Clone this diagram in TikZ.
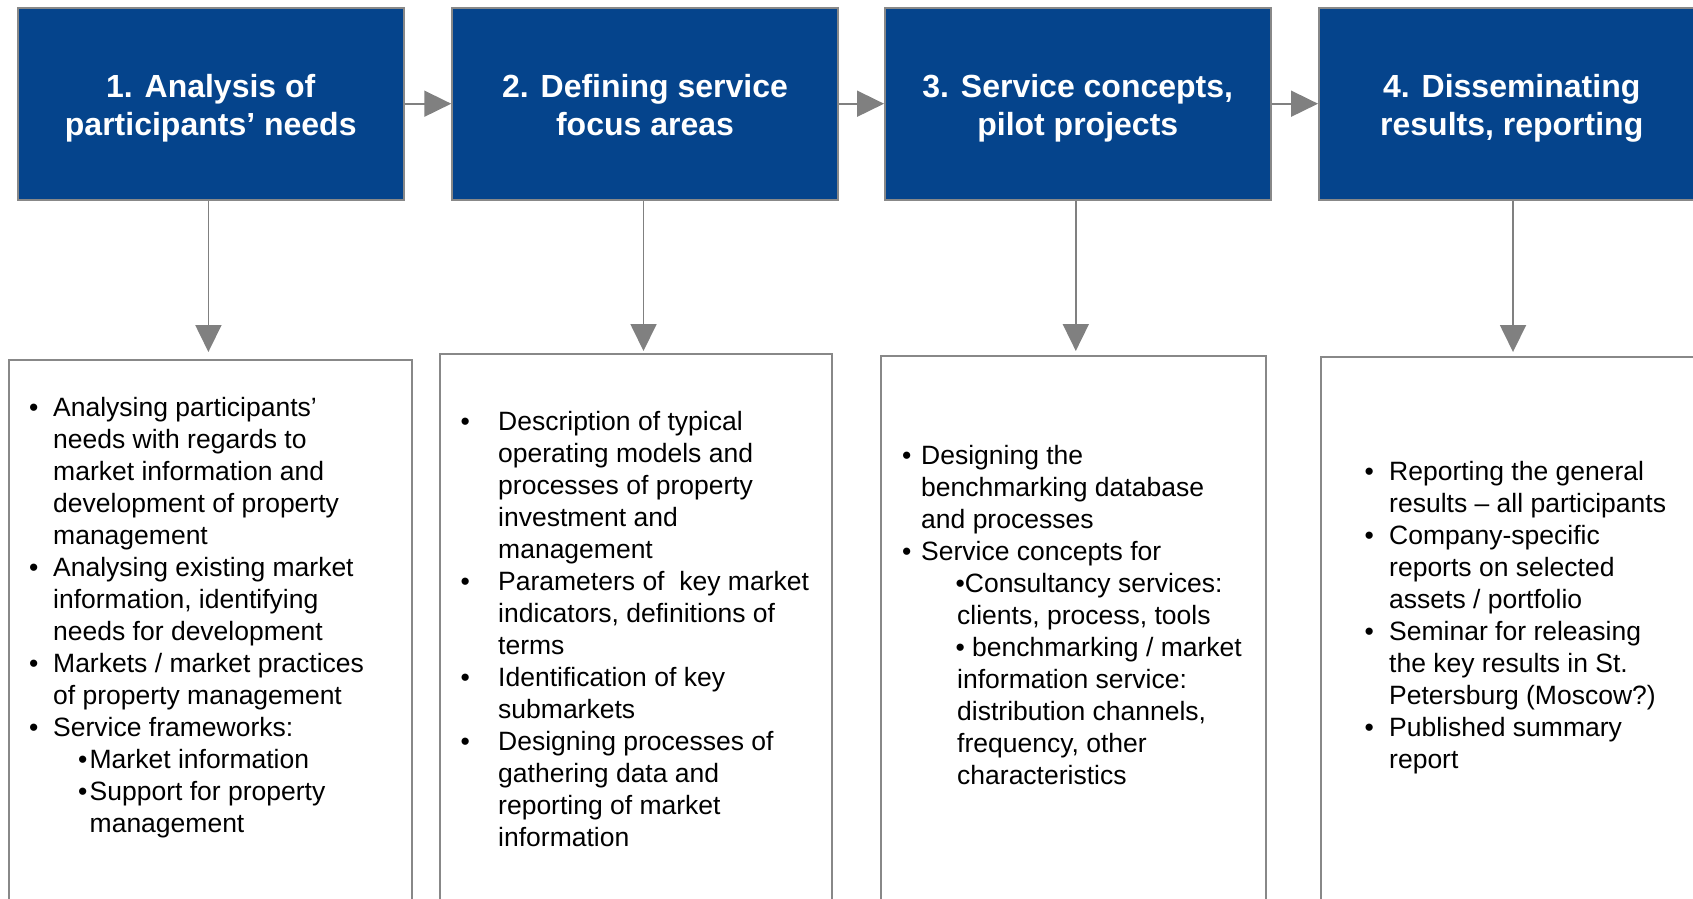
\documentclass[tikz,border=0pt]{standalone}
\usepackage{fontspec}
\setmainfont{Liberation Sans}
\usetikzlibrary{arrows.meta}
\definecolor{boxblue}{RGB}{5,68,140}
\definecolor{edgegray}{RGB}{136,136,136}
\definecolor{arrgray}{RGB}{128,128,128}
\newcommand{\bul}[1]{\makebox[#1][l]{•}}
\newcommand{\ind}[1]{\hspace*{#1}}
\newcommand{\topline}{\rule{0pt}{37pt}}
\begin{document}
\begin{tikzpicture}[x=1pt,y=-1pt,
  stage/.style={draw=edgegray, line width=2pt, fill=boxblue, text=white,
    minimum width=385.5pt, minimum height=192pt, inner sep=0pt, align=center,
    font=\fontsize{32}{38}\selectfont\bfseries},
  panel/.style={draw=edgegray, line width=2pt, fill=white, inner sep=0pt},
  bodytext/.style={anchor=base west, inner sep=0pt, font=\fontsize{26.5}{32}\selectfont},
  arr/.style={draw=arrgray, line width=1.8pt, -{Triangle[length=27pt,width=26pt]}}
]
\useasboundingbox (0,0) rectangle (1693,898);
\clip (0,0) rectangle (1693,898);

% top stage boxes
\node[stage] (s1) at (210.75,103.7) {\topline 1. Analysis of\\participants’ needs\strut};
\node[stage] (s2) at (645,103.7) {\topline 2. Defining service\\focus areas\strut};
\node[stage] (s3) at (1077.75,103.7) {\topline 3. Service concepts,\\pilot projects\strut};
\node[stage] (s4) at (1511.75,103.7) {\topline 4. Disseminating\\results, reporting\strut};

% lower panels
\node[panel, minimum width=403pt, minimum height=560pt] (p1) at (210.1,640) {};
\node[panel, minimum width=392.4pt, minimum height=566pt] (p2) at (636.2,637) {};
\node[panel, minimum width=384.6pt, minimum height=564pt] (p3) at (1073.3,638) {};
\node[panel, minimum width=399pt, minimum height=563pt] (p4) at (1520.5,638.5) {};

% horizontal arrows
\draw[arr] (s1.east) -- (s2.west);
\draw[arr] (s2.east) -- (s3.west);
\draw[arr] (s3.east) -- (s4.west);

% vertical arrows
\coordinate (t1) at (208.4,352);
\coordinate (t2) at (643.5,351);
\coordinate (t3) at (1075.8,351);
\coordinate (t4) at (1513,352);
\draw[arr] (s1.south -| t1) -- (t1);
\draw[arr] (s2.south -| t2) -- (t2);
\draw[arr] (s3.south -| t3) -- (t3);
\draw[arr] (s4.south -| t4) -- (t4);

% texts
\node[bodytext] (x1) at (29,416.6) {\begin{tabular}[t]{@{}l@{}}
\bul{24pt}Analysing participants’\\
\ind{24pt}needs with regards to\\
\ind{24pt}market information and\\
\ind{24pt}development of property\\
\ind{24pt}management\\
\bul{24pt}Analysing existing market\\
\ind{24pt}information, identifying\\
\ind{24pt}needs for development\\
\bul{24pt}Markets / market practices\\
\ind{24pt}of property management\\
\bul{24pt}Service frameworks:\\
\ind{49pt}\bul{11.5pt}Market information\\
\ind{49pt}\bul{11.5pt}Support for property\\
\ind{60.5pt}management
\end{tabular}};

\node[bodytext] (x2) at (460.4,430.8) {\begin{tabular}[t]{@{}l@{}}
\bul{37.6pt}Description of typical\\
\ind{37.6pt}operating models and\\
\ind{37.6pt}processes of property\\
\ind{37.6pt}investment and\\
\ind{37.6pt}management\\
\bul{37.6pt}Parameters of \ key market\\
\ind{37.6pt}indicators, definitions of\\
\ind{37.6pt}terms\\
\bul{37.6pt}Identification of key\\
\ind{37.6pt}submarkets\\
\bul{37.6pt}Designing processes of\\
\ind{37.6pt}gathering data and\\
\ind{37.6pt}reporting of market\\
\ind{37.6pt}information
\end{tabular}};

\node[bodytext] (x3) at (902,464.7) {\begin{tabular}[t]{@{}l@{}}
\bul{19pt}Designing the\\
\ind{19pt}benchmarking database\\
\ind{19pt}and processes\\
\bul{19pt}Service concepts for\\
\ind{53.4pt}•Consultancy services:\\
\ind{55pt}clients, process, tools\\
\ind{53.4pt}• benchmarking / market\\
\ind{55pt}information service:\\
\ind{55pt}distribution channels,\\
\ind{55pt}frequency, other\\
\ind{55pt}characteristics
\end{tabular}};

\node[bodytext] (x4) at (1364.4,480.7) {\begin{tabular}[t]{@{}l@{}}
\bul{24.6pt}Reporting the general\\
\ind{24.6pt}results – all participants\\
\bul{24.6pt}Company-specific\\
\ind{24.6pt}reports on selected\\
\ind{24.6pt}assets / portfolio\\
\bul{24.6pt}Seminar for releasing\\
\ind{24.6pt}the key results in St.\\
\ind{24.6pt}Petersburg (Moscow?)\\
\bul{24.6pt}Published summary\\
\ind{24.6pt}report
\end{tabular}};
\end{tikzpicture}
\end{document}
